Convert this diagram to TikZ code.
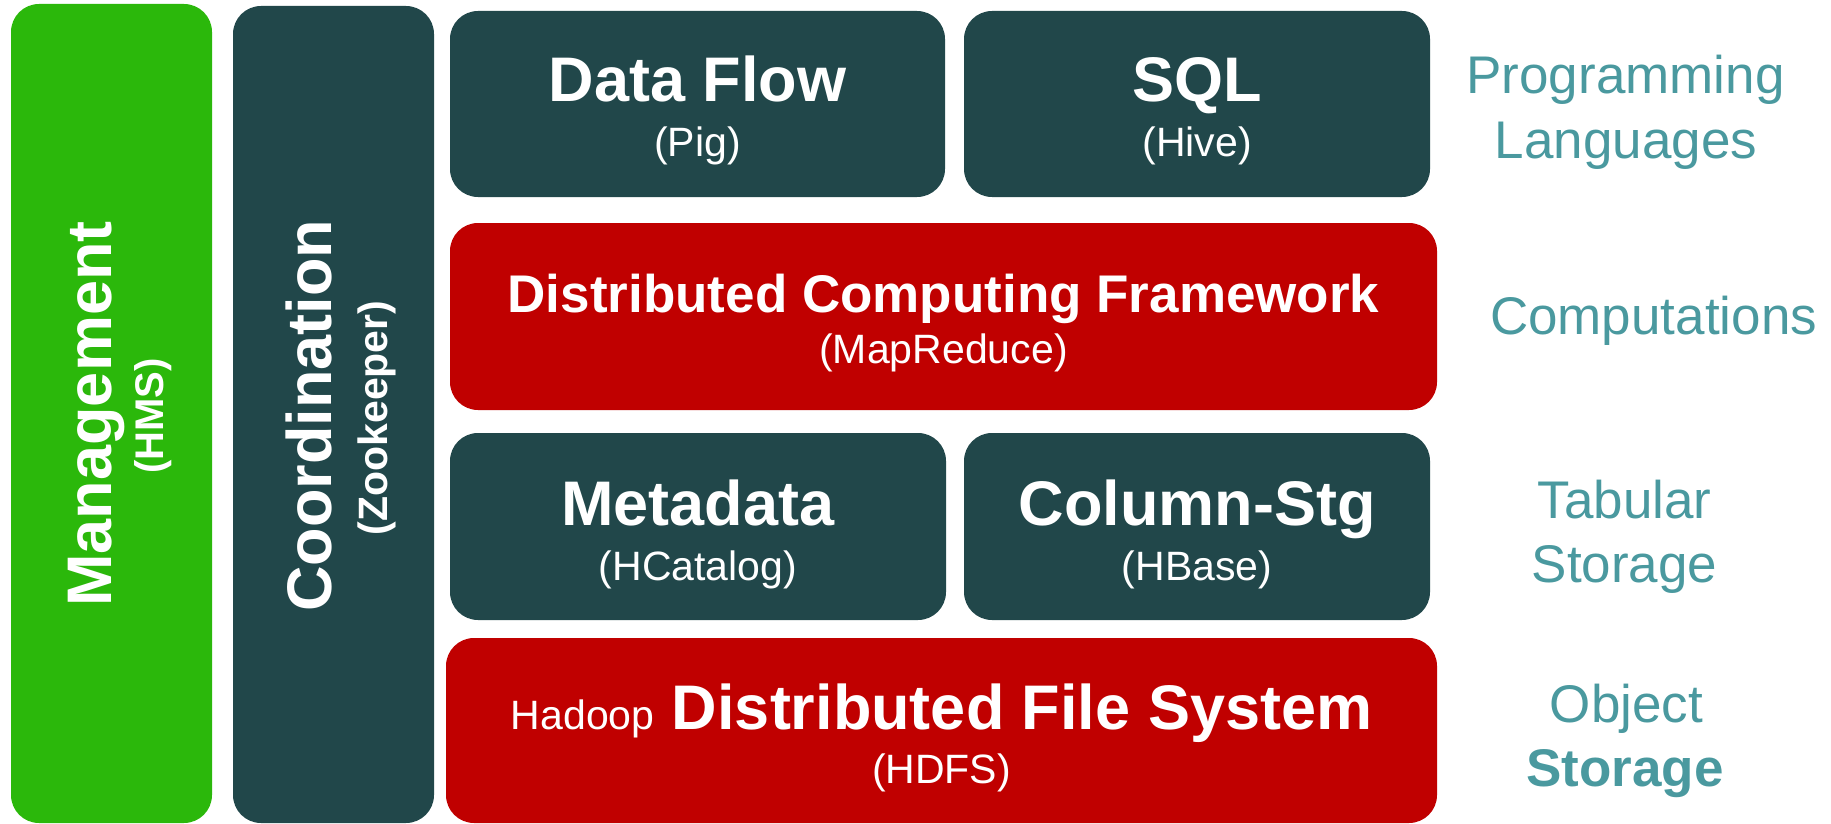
\documentclass[tikz,border=0pt]{standalone}
\usepackage{fontspec}
\setmainfont{Liberation Sans}
\usepackage{tikz}
\usepackage{xcolor}
\definecolor{mgmtgreen}{HTML}{2BB80B}
\definecolor{darkteal}{HTML}{21474A}
\definecolor{hadoopred}{HTML}{C00000}
\definecolor{layerteal}{HTML}{4A999F}

\begin{document}
\begin{tikzpicture}[x=1pt,y=-1pt,
  box/.style={rectangle, rounded corners=28pt, inner sep=0pt},
  head/.style={text=white, font=\fontsize{63}{70}\selectfont\bfseries, anchor=base, inner sep=0pt},
  sub/.style={text=white, font=\fontsize{41}{48}\selectfont, anchor=base, inner sep=0pt},
  layer/.style={text=layerteal, font=\fontsize{53}{60}\selectfont, anchor=base, inner sep=0pt}]
\useasboundingbox (0,0) rectangle (1831,824);

% side columns
\node[box, fill=mgmtgreen, minimum width=201pt, minimum height=819pt] (mgmt) at (111.5,413.5) {};
\node[box, fill=darkteal, minimum width=201pt, minimum height=817pt] (coord) at (333.5,414.5) {};
\node[head, rotate=90] (mgmtT) at (111,414) {Management};
\node[sub, rotate=90, font=\fontsize{40}{48}\selectfont\bfseries] (mgmtS) at (163,416) {(HMS)};
\node[head, rotate=90] (coordT) at (331,416) {Coordination};
\node[sub, rotate=90, font=\fontsize{41}{48}\selectfont\bfseries] (coordS) at (387,418) {(Zookeeper)};

% stack
\node[box, fill=darkteal, minimum width=495pt, minimum height=186pt] (flow) at (697.5,104) {};
\node[box, fill=darkteal, minimum width=466pt, minimum height=186pt] (sql) at (1197,104) {};
\node[box, fill=hadoopred, minimum width=987pt, minimum height=187pt] (mapred) at (943.5,316.5) {};
\node[box, fill=darkteal, minimum width=496pt, minimum height=187pt] (meta) at (698,526.5) {};
\node[box, fill=darkteal, minimum width=466pt, minimum height=187pt] (colstg) at (1197,526.5) {};
\node[box, fill=hadoopred, minimum width=991pt, minimum height=185pt] (hdfs) at (941.5,730.5) {};

\node[head] (flowT) at (697.5,102) {Data Flow};
\node[sub] (flowS) at (697.5,157) {(Pig)};
\node[head] (sqlT) at (1197,102) {SQL};
\node[sub] (sqlS) at (1197,157) {(Hive)};
\node[head, font=\fontsize{53}{60}\selectfont\bfseries] (mapredT) at (943.5,312) {Distributed Computing Framework};
\node[sub] (mapredS) at (943.5,363) {(MapReduce)};
\node[head] (metaT) at (698,525) {Metadata};
\node[sub] (metaS) at (698,580) {(HCatalog)};
\node[head] (colstgT) at (1197,525) {Column-Stg};
\node[sub] (colstgS) at (1197,580) {(HBase)};
\node[head] (hdfsT) at (941.5,729) {{\fontsize{41}{48}\selectfont\mdseries Hadoop} Distributed File System};
\node[sub] (hdfsS) at (941.5,783) {(HDFS)};

% layer names
\node[layer] (progA) at (1625.5,94) {Programming};
\node[layer] (progB) at (1626,159) {Languages};
\node[layer] (comp) at (1653.5,334) {Computations};
\node[layer] (tabA) at (1624.5,518) {Tabular};
\node[layer] (tabB) at (1624.5,582) {Storage};
\node[layer] (objA) at (1626.5,722) {Object};
\node[layer, font=\fontsize{53}{60}\selectfont\bfseries] (objB) at (1625,786) {Storage};
\end{tikzpicture}
\end{document}
